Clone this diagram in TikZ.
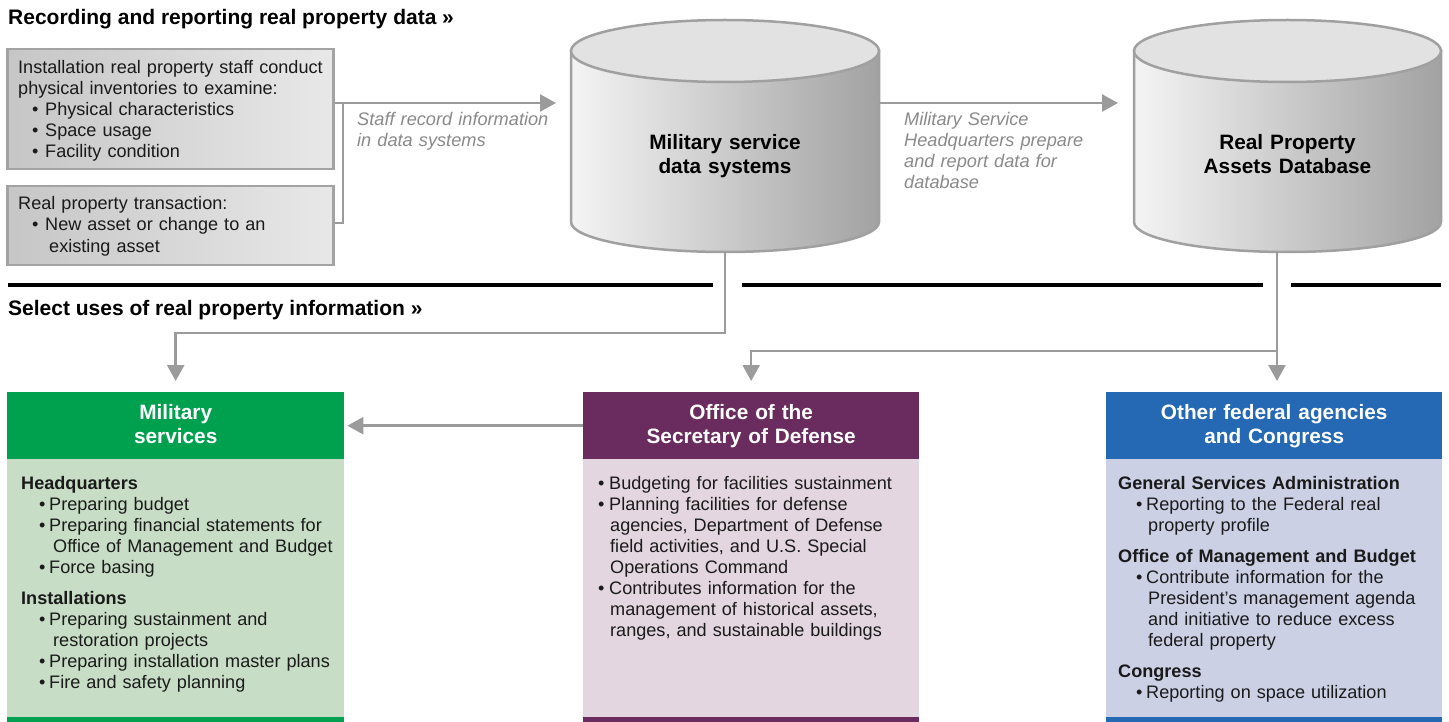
\documentclass[tikz,border=0pt]{standalone}
\usepackage{fontspec}
\setmainfont{Liberation Sans}
\usetikzlibrary{arrows.meta}
\definecolor{linegray}{HTML}{9B9B9B}
\definecolor{boxL}{HTML}{C6C6C6}
\definecolor{boxR}{HTML}{E8E8E8}
\definecolor{boxline}{HTML}{A3A3A3}
\definecolor{cyline}{HTML}{A0A0A0}
\definecolor{cyL}{HTML}{F4F4F4}
\definecolor{cyM}{HTML}{D2D2D2}
\definecolor{cyR}{HTML}{A2A2A2}
\definecolor{cytop}{HTML}{E2E2E2}
\definecolor{labgray}{HTML}{8A8A8A}
\definecolor{msgreen}{HTML}{00A14E}
\definecolor{msbody}{HTML}{C8DDC6}
\definecolor{osdpurple}{HTML}{6A2B5E}
\definecolor{osdbody}{HTML}{E3D6E1}
\definecolor{ofblue}{HTML}{2568B4}
\definecolor{ofbody}{HTML}{CBD0E5}
\definecolor{txt}{HTML}{1A1A1A}
\newlength\bulind \newlength\bulw \newlength\contind
\newcommand\itm{\hspace*{\bulind}\makebox[\bulw][l]{\textbullet}}
\newcommand\cnt{\hspace*{\contind}}
\tikzset{
  titletext/.style={anchor=base west, inner sep=0pt, font=\bfseries\fontsize{21}{24}\selectfont, text=black},
  bodytext/.style={anchor=base west, inner sep=0pt, text width=330pt, align=left, text=txt, font=\fontsize{18.1}{21}\selectfont},
  labeltext/.style={anchor=base west, inner sep=0pt, text width=230pt, align=left, text=labgray, font=\itshape\fontsize{18.2}{21}\selectfont},
  cyltext/.style={anchor=base, inner sep=0pt, text width=300pt, align=center, text=black, font=\bfseries\fontsize{20.8}{24}\selectfont},
  graybox/.style={anchor=north west, inner sep=0pt, draw=boxline, line width=2.5pt, left color=boxL, right color=boxR},
  hdr/.style={anchor=north west, inner sep=0pt, minimum height=67pt, text width=#1, align=center, text=white, text height=15.2pt, text depth=28.6pt, font=\bfseries\fontsize{20.8}{24}\selectfont},
  conn/.style={draw=linegray, line width=2.5pt},
  arr/.style={-{Triangle[length=16pt,width=17pt]}},
  rule/.style={draw=black, line width=3.3pt},
}
\begin{document}
\begin{tikzpicture}[x=1pt,y=-1pt]
\useasboundingbox (0,0) rectangle (1449,722);
\fill[white] (0,0) rectangle (1449,722);

% titles
\node[titletext] (t1) at (8,24.5) {Recording and reporting real property data »};
\node[titletext] (t2) at (8,316) {Select uses of real property information »};

% top-left boxes
\node[graybox, minimum width=326pt, minimum height=120pt] (b1) at (6,48) {};
\node[graybox, minimum width=326pt, minimum height=79pt] (b2) at (6,185) {};
\node[bodytext, font=\fontsize{18.1}{20.8}\selectfont] (b1t) at (18,74) {%
\setlength\bulind{14pt}\setlength\bulw{13pt}\setlength\contind{31pt}%
Installation real property staff conduct\\
physical inventories to examine:\\
\itm Physical characteristics\\
\itm Space usage\\
\itm Facility condition};
\node[bodytext, font=\fontsize{18.1}{21.5}\selectfont] (b2t) at (18,209.5) {%
\setlength\bulind{14pt}\setlength\bulw{13pt}\setlength\contind{31pt}%
Real property transaction:\\
\itm New asset or change to an\\
\cnt existing asset};

% cylinders
\path[left color=cyL, middle color=cyM, right color=cyR, draw=cyline, line width=2.5pt]
  (571,51) -- (571,222) arc[start angle=180, end angle=0, x radius=154, y radius=30] -- (879,51) -- cycle;
\draw[fill=cytop, draw=cyline, line width=2.5pt] (725,51) ellipse[x radius=154, y radius=31];
\path[left color=cyL, middle color=cyM, right color=cyR, draw=cyline, line width=2.5pt]
  (1134,51) -- (1134,222) arc[start angle=180, end angle=0, x radius=153.5, y radius=30] -- (1441,51) -- cycle;
\draw[fill=cytop, draw=cyline, line width=2.5pt] (1287.5,51) ellipse[x radius=153.5, y radius=31];
\node[cyltext] (c1t) at (725,149.5) {Military service\\data systems};
\node[cyltext] (c2t) at (1287.5,149.5) {Real Property\\Assets Database};
\coordinate (c1l) at (571,103);
\coordinate (c1r) at (879,103);
\coordinate (c1b) at (725,252);
\coordinate (c2l) at (1134,103);
\coordinate (c2b) at (1277,252);

% connectors top
\coordinate (j1) at (343,103);
\draw[conn] (b2.east |- 0,223) -| (j1);
\draw[conn, arr, shorten >=15pt] (b1.east |- j1) -- (c1l);
\draw[conn, arr, shorten >=16pt] (c1r) -- (c2l);
\node[labeltext] (l1) at (357,126) {Staff record information\\in data systems};
\node[labeltext] (l2) at (904,126) {Military Service\\Headquarters prepare\\and report data for\\database};

% rules
\draw[rule] (8,285) -- (713,285);
\draw[rule] (742,285) -- (1263,285);
\draw[rule] (1291,285) -- (1441,285);

% bottom boxes
\node[hdr=337pt, fill=msgreen] (ms) at (7,392) {Military\\services};
\fill[msbody] (7,459) rectangle (344,717);
\fill[msgreen] (7,717) rectangle (344,722);
\node[hdr=336pt, fill=osdpurple] (osd) at (583,392) {Office of the\\Secretary of Defense};
\fill[osdbody] (583,459) rectangle (919,717);
\fill[osdpurple] (583,717) rectangle (919,722);
\node[hdr=336pt, fill=ofblue] (of) at (1106,392) {Other federal agencies\\and Congress};
\fill[ofbody] (1106,459) rectangle (1442,717);
\fill[ofblue] (1106,717) rectangle (1442,722);

% connectors bottom
\draw[conn, arr, shorten >=11pt] (c1b) |- (ms.north |- 0,333) -- (ms.north);
\draw[conn, arr, shorten >=11pt] (c2b) -- (c2b |- of.north);
\draw[conn, arr, shorten >=11pt] (c2b |- 0,351) -| (osd.north);
\draw[conn, arr, shorten >=3pt] (osd.west) -- (ms.east);

% body texts
\node[bodytext] (mst) at (21,489) {%
\setlength\bulind{18pt}\setlength\bulw{10pt}\setlength\contind{32pt}%
\textbf{Headquarters}\\
\itm Preparing budget\\
\itm Preparing financial statements for\\
\cnt Office of Management and Budget\\
\itm Force basing\\[10.5pt]
\textbf{Installations}\\
\itm Preparing sustainment and\\
\cnt restoration projects\\
\itm Preparing installation master plans\\
\itm Fire and safety planning};
\node[bodytext] (osdt) at (580,489) {%
\setlength\bulind{18pt}\setlength\bulw{11pt}\setlength\contind{30pt}%
\itm Budgeting for facilities sustainment\\
\itm Planning facilities for defense\\
\cnt agencies, Department of Defense\\
\cnt field activities, and U.S. Special\\
\cnt Operations Command\\
\itm Contributes information for the\\
\cnt management of historical assets,\\
\cnt ranges, and sustainable buildings};
\node[bodytext] (oft) at (1118,489) {%
\setlength\bulind{18pt}\setlength\bulw{10pt}\setlength\contind{30pt}%
\textbf{General Services Administration}\\
\itm Reporting to the Federal real\\
\cnt property profile\\[10pt]
\textbf{Office of Management and Budget}\\
\itm Contribute information for the\\
\cnt President’s management agenda\\
\cnt and initiative to reduce excess\\
\cnt federal property\\[10pt]
\textbf{Congress}\\
\itm Reporting on space utilization};
\end{tikzpicture}
\end{document}
